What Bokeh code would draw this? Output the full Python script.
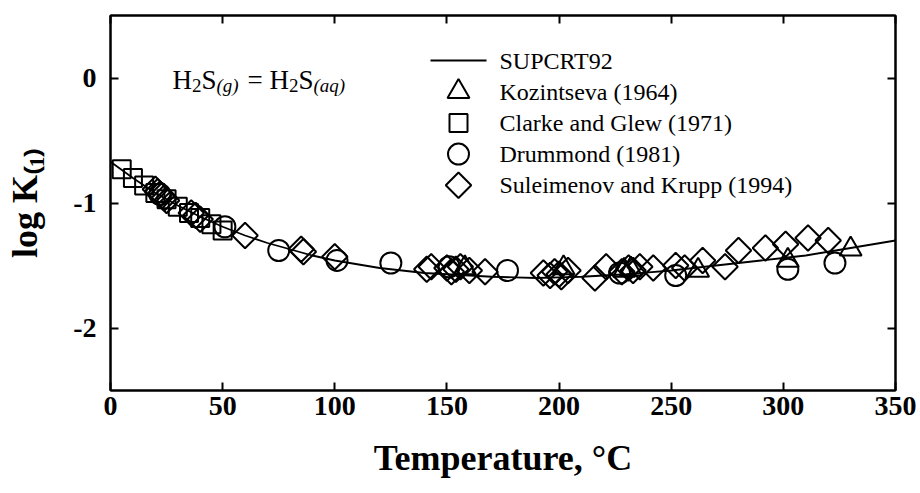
import math
from bokeh.plotting import figure
from bokeh.models import Range1d, LinearAxis, FixedTicker, Label
from bokeh.embed import file_html
from bokeh.resources import INLINE

# ---------------- data ----------------
supcrt_T = [0, 10, 20, 30, 40, 50, 60, 70, 80, 90, 100, 110, 120, 130, 140, 150, 160,
            170, 180, 190, 200, 210, 220, 230, 240, 250, 260, 270, 280, 290, 300,
            310, 320, 330, 340, 350]
supcrt_logK = [-0.67, -0.80, -0.92, -1.02, -1.11, -1.19, -1.26, -1.32, -1.37, -1.42,
               -1.46, -1.49, -1.52, -1.54, -1.56, -1.57, -1.58, -1.59, -1.595, -1.60,
               -1.595, -1.59, -1.58, -1.57, -1.555, -1.54, -1.52, -1.50, -1.48, -1.46,
               -1.44, -1.42, -1.39, -1.36, -1.33, -1.30]

koz_T = [158, 202, 229, 232, 262, 302, 330]
koz_logK = [-1.52, -1.52, -1.54, -1.53, -1.54, -1.46, -1.37]

clarke_T = [5, 10, 15, 20, 25, 30, 35, 40, 45, 50]
clarke_logK = [-0.73, -0.80, -0.86, -0.92, -0.97, -1.03, -1.08, -1.12, -1.17, -1.22]

drum_T = [22, 51, 75, 101, 125, 151, 177, 227, 252, 302, 323]
drum_logK = [-0.93, -1.19, -1.38, -1.46, -1.48, -1.51, -1.54, -1.56, -1.58, -1.53, -1.48]

sul_T = [20, 21, 22, 23, 24, 25, 36, 38, 40, 60, 85, 86, 100, 141, 143, 150, 152, 154,
         156, 160, 167, 193, 196, 198, 200, 201, 204, 216, 221, 228, 231, 233, 236, 242,
         252, 256, 264, 274, 280, 292, 301, 311, 320]
sul_logK = [-0.89, -0.91, -0.93, -0.94, -0.96, -0.98, -1.08, -1.10, -1.13, -1.26, -1.37,
            -1.39, -1.43, -1.53, -1.51, -1.52, -1.55, -1.53, -1.51, -1.54, -1.55, -1.56,
            -1.58, -1.55, -1.57, -1.59, -1.54, -1.60, -1.51, -1.55, -1.52, -1.54, -1.51,
            -1.52, -1.50, -1.52, -1.46, -1.51, -1.38, -1.36, -1.33, -1.28, -1.30]

x_ticks = [0, 50, 100, 150, 200, 250, 300, 350]
y_ticks = [-2, -1, 0]
y_tick_labels = {-2: "-2", -1: "-1", 0: "0"}

series_labels = ["SUPCRT92", "Kozintseva (1964)", "Clarke and Glew (1971)",
                 "Drummond (1981)", "Suleimenov and Krupp (1994)"]
x_title = "Temperature, °C"
y_title = "log K\u208d\u2081\u208e"

FONT = "Liberation Serif"

# ---------------- layout (pixels) ----------------
W, H = 916, 491
F_LEFT, F_RIGHT, F_TOP, F_BOTTOM = 110, 895, 15, 390
X0, X1, Y0, Y1 = 0, 350, -2.5, 0.5
XS = (F_RIGHT - F_LEFT) / (X1 - X0)
YS = (F_BOTTOM - F_TOP) / (Y1 - Y0)

def dx(px):
    return X0 + (px - F_LEFT) / XS

def dy(py):
    return Y1 - (py - F_TOP) / YS

# ---------------- figure ----------------
p = figure(width=W, height=H, output_backend="svg", toolbar_location=None,
           x_range=Range1d(X0, X1), y_range=Range1d(Y0, Y1),
           min_border_left=F_LEFT, min_border_right=W - F_RIGHT,
           min_border_top=F_TOP, min_border_bottom=H - F_BOTTOM)
p.grid.visible = False
p.outline_line_color = "black"
p.outline_line_width = 2
p.background_fill_color = "white"
p.border_fill_color = "white"

def style_axis(ax, ticks, show_labels=True):
    ax.ticker = FixedTicker(ticks=ticks)
    ax.axis_line_width = 2
    ax.axis_line_color = "black"
    ax.major_tick_line_width = 2
    ax.major_tick_line_color = "black"
    ax.major_tick_in = 8
    ax.major_tick_out = 0
    ax.minor_tick_in = 0
    ax.minor_tick_out = 0
    if show_labels:
        ax.major_label_text_font = FONT
        ax.major_label_text_font_style = "bold"
        ax.major_label_text_font_size = "28px"
        ax.major_label_text_color = "black"
    else:
        ax.major_label_overrides = {t: "" for t in ticks}
        ax.major_label_text_font_size = "1px"
        ax.major_label_standoff = 0

xax = p.xaxis[0]
yax = p.yaxis[0]
style_axis(xax, x_ticks)
style_axis(yax, y_ticks)
yax.major_label_overrides = y_tick_labels
xax.major_label_standoff = 6
yax.major_label_standoff = 14

for ax, title, standoff in [(xax, x_title, 20), (yax, y_title, 25)]:
    ax.axis_label = title
    ax.axis_label_text_font = FONT
    ax.axis_label_text_font_style = "bold"
    ax.axis_label_text_font_size = "36px"
    ax.axis_label_text_color = "black"
    ax.axis_label_standoff = standoff

top_ax = LinearAxis()
style_axis(top_ax, x_ticks, show_labels=False)
p.add_layout(top_ax, "above")
right_ax = LinearAxis()
style_axis(right_ax, y_ticks, show_labels=False)
p.add_layout(right_ax, "right")

# ---------------- data glyphs ----------------
line_style = dict(line_color="black", line_width=1.8)
mk = dict(fill_color=None, line_color="black", line_width=2)
koz_style = dict(marker="triangle", size=22, **mk)
cla_style = dict(marker="square", size=18, **mk)
dru_style = dict(marker="circle", size=21, **mk)
sul_style = dict(marker="square", size=18, angle=math.pi / 4, **mk)

p.line(supcrt_T, supcrt_logK, **line_style)
p.scatter(koz_T, koz_logK, **koz_style)
p.scatter(clarke_T, clarke_logK, **cla_style)
p.scatter(drum_T, drum_logK, **dru_style)
p.scatter(sul_T, sul_logK, **sul_style)

# ---------------- legend (drawn by hand) ----------------
LEG_LINE_X0, LEG_LINE_X1, LEG_MARK_X, LEG_TEXT_X = 430, 486, 458, 499
LEG_ROW0, LEG_PITCH = 60, 31.2
rows = [LEG_ROW0 + i * LEG_PITCH for i in range(5)]
p.line([dx(LEG_LINE_X0), dx(LEG_LINE_X1)], [dy(rows[0]), dy(rows[0])], **line_style)
for style, ry in zip([koz_style, cla_style, dru_style, sul_style], rows[1:]):
    p.scatter([dx(LEG_MARK_X)], [dy(ry)], **style)
for lab, ry in zip(series_labels, rows):
    p.add_layout(Label(x=dx(LEG_TEXT_X), y=dy(ry), text=lab, text_font=FONT,
                       text_font_size="24px", text_color="black",
                       text_align="left", text_baseline="middle"))

# ---------------- reaction text ----------------
def piece(text, px, py, size, style="normal"):
    p.add_layout(Label(x=dx(px), y=dy(py), text=text,
                       text_font=FONT, text_font_size=size, text_font_style=style,
                       text_color="black", text_align="left",
                       text_baseline="alphabetic"))

BASE, SUB = 79, 85
piece("H", 172, BASE, "27px")
piece("2", 191.5, SUB, "19px")
piece("S", 201, BASE, "27px")
piece("(g)", 216, SUB, "19px", "italic")
piece("=", 247, BASE, "27px")
piece("H", 269, BASE, "27px")
piece("2", 288.5, SUB, "19px")
piece("S", 298, BASE, "27px")
piece("(aq)", 313, SUB, "19px", "italic")

open("out.html", "w").write(file_html(p, INLINE))
